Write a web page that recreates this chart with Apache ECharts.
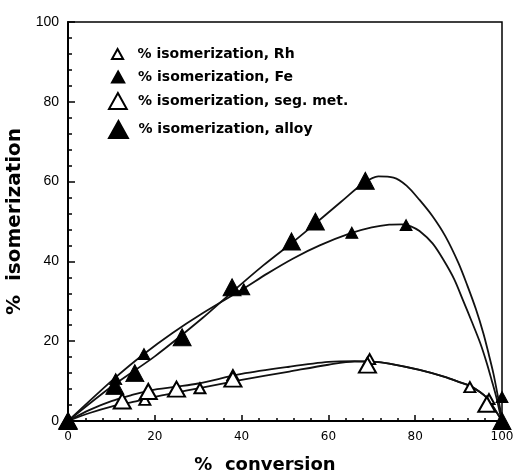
<!DOCTYPE html>
<html>
<head>
<meta charset="utf-8">
<script src="https://cdn.jsdelivr.net/npm/echarts@6/dist/echarts.min.js"></script>
<style>
  html, body { margin: 0; padding: 0; background: #fff; }
  #chart { width: 516px; height: 471px; }
</style>
</head>
<body>
<div id="chart"></div>
<script>
// --- data ---
// markers: [x, y]
const rhPoints = [[0, 0], [17.7, 5.3], [30.4, 8.2], [38, 11.5], [69.5, 15.5], [92.6, 8.5], [97, 5.5], [100, 0]];
const fePoints = [[11, 10.5], [17.5, 16.8], [40.5, 33], [65.4, 47.2], [77.9, 49.1], [100, 6]];
const segPoints = [[0, 0], [12.5, 5], [18.5, 7.4], [25, 8], [38, 10.5], [69, 14], [96.5, 4.2]];
const alloyPoints = [[0, 0], [10.8, 8.8], [15.4, 12], [26.3, 21], [37.8, 33.5], [51.5, 45], [57, 50], [68.5, 60.2], [100, 0]];

// fitted curves drawn in the figure
const alloyCurve = [[0, 0], [10.5, 9], [20, 16.2], [31, 25.8], [38, 32.5],
  [45, 39], [52, 45], [57, 49.5], [63, 55], [68, 59.5], [71.5, 61.3], [75, 61], [78, 59], [81, 55.4],
  [84, 51.3], [87, 46.2], [90, 39.5], [92, 34], [94, 28], [95.7, 22], [97, 16.5], [98, 12], [99, 6.5], [100, 0.5]];
const feCurve = [[0, 0], [10.5, 10.5], [17.5, 16.8], [24, 22], [31, 27], [40.5, 33.2], [46, 37],
  [52, 40.8], [58, 44], [65, 47], [70, 48.5], [74, 49.2], [77, 49.3], [79, 48.8], [81, 47.6], [84, 44.5],
  [86.5, 40.4], [89, 35.5], [91, 30.3], [93, 25], [95, 19.5], [96.5, 14.5], [97.6, 10.3], [98.8, 5.5], [99.8, 0.5]];
const segCurve = [[0, 0], [5, 2.8], [10, 5], [15, 6.6], [19, 7.7], [25, 8.6], [30, 9.4], [40, 11.8],
  [51, 13.6], [60, 14.8], [66, 15], [70, 14.9], [74, 14.4], [81, 12.8], [87, 11],
  [90, 9.8], [92.6, 8.8], [95, 7.2], [96.5, 5.8], [98, 3.5], [100, 0]];
const rhCurve = [[0, 0], [5, 2], [10, 3.6], [15, 4.8], [19, 5.8], [25, 7.1], [30, 8.2], [40, 10.3],
  [51, 12.4], [60, 14.1], [66, 14.9], [70, 14.9], [74, 14.4], [81, 12.8], [87, 11],
  [90, 9.8], [92.6, 8.8], [95, 7.2], [96.5, 5.8], [98, 3.5], [100, 0]];

const legendNames = ['% isomerization, Rh', '% isomerization, Fe', '% isomerization, seg. met.', '% isomerization, alloy'];
const xTicks = [0, 20, 40, 60, 80, 100];
const yTicks = [0, 20, 40, 60, 80, 100];

const INK = '#000';
const TRI = 'path://M5,0 L10,9 L0,9 Z';

const chart = echarts.init(document.getElementById('chart'));

const curve = (data) => ({
  type: 'line',
  data: data,
  smooth: 0.3,
  showSymbol: false,
  silent: true,
  z: 2,
  lineStyle: { color: '#111', width: 1.8 }
});

const marks = (name, data, size, open) => ({
  name: name,
  type: 'scatter',
  data: data,
  symbol: 'triangle',
  symbolSize: size,
  z: 5,
  itemStyle: open
    ? { color: '#fff', borderColor: INK, borderWidth: 2, opacity: 1 }
    : { color: INK, borderColor: INK, borderWidth: 1, opacity: 1 }
});

// one legend per row so each row gets its own icon size
const legendRow = (name, left, top, h) => ({
  data: [{ name: name, icon: TRI }],
  left: left,
  top: top,
  itemWidth: 30,
  itemHeight: h,
  padding: 0,
  selectedMode: false,
  itemStyle: { opacity: 1 },
  textStyle: { fontFamily: 'DejaVu Sans', fontWeight: 'bold', fontSize: 14, color: INK }
});

const option = {
  backgroundColor: '#fff',
  animation: false,
  grid: {
    left: 68, right: 14, top: 22, bottom: 50,
    outerBoundsMode: 'none',
    show: true, borderColor: INK, borderWidth: 1.5
  },
  legend: [
    legendRow(legendNames[0], 111, 47, 10),
    legendRow(legendNames[1], 111, 70, 11),
    legendRow(legendNames[2], 108, 92, 16),
    legendRow(legendNames[3], 108, 120, 17)
  ],
  xAxis: {
    type: 'value',
    min: 0, max: 100, interval: 20,
    name: '%  conversion',
    nameLocation: 'middle',
    nameGap: 35,
    nameTextStyle: { fontFamily: 'DejaVu Sans', fontWeight: 'bold', fontSize: 18, color: INK, padding: [0, 40, 0, 0] },
    axisLine: { lineStyle: { color: INK, width: 2 } },
    axisTick: { inside: true, length: 6, lineStyle: { color: INK, width: 1.5 } },
    minorTick: { show: true, splitNumber: 5, length: 3, lineStyle: { color: INK, width: 1.5 } },
    splitLine: { show: false },
    axisLabel: {
      margin: 10, fontFamily: 'DejaVu Sans', fontSize: 12, color: INK,
      formatter: (v) => xTicks.includes(v) ? String(v) : ''
    }
  },
  yAxis: {
    type: 'value',
    min: 0, max: 100, interval: 20,
    name: '%  isomerization',
    nameLocation: 'middle',
    nameRotate: 90,
    nameGap: 41,
    nameTextStyle: { fontFamily: 'DejaVu Sans', fontWeight: 'bold', fontSize: 20, color: INK },
    axisLine: { lineStyle: { color: INK, width: 2 } },
    axisTick: { inside: true, length: 7, lineStyle: { color: INK, width: 1.5 } },
    minorTick: { show: true, splitNumber: 5, length: 4, lineStyle: { color: INK, width: 1.5 } },
    splitLine: { show: false },
    axisLabel: {
      margin: 9, fontFamily: 'Liberation Sans', fontSize: 14, color: INK,
      formatter: (v) => yTicks.includes(v) ? String(v) : ''
    }
  },
  series: [
    curve(alloyCurve),
    curve(feCurve),
    curve(segCurve),
    curve(rhCurve),
    marks(legendNames[0], rhPoints, [11, 10], true),
    marks(legendNames[1], fePoints, [12, 11], false),
    marks(legendNames[2], segPoints, [17, 15], true),
    marks(legendNames[3], alloyPoints, [18, 17], false)
  ]
};

chart.setOption(option);
</script>
</body>
</html>
